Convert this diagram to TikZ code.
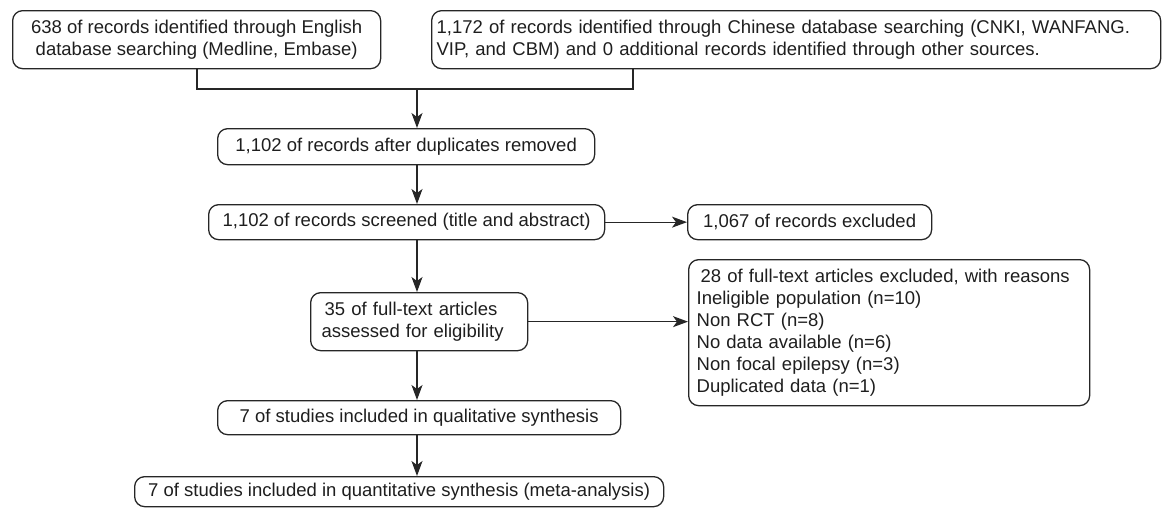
\documentclass[tikz,border=0pt]{standalone}
\usepackage{fontspec}
\setmainfont{Liberation Sans}
\usetikzlibrary{arrows.meta}
\definecolor{lc}{HTML}{262626}
\definecolor{tc}{HTML}{1E1E1E}
\begin{document}
\begin{tikzpicture}[x=1pt,y=-1pt,
  box/.style={draw=lc, line width=1.3pt, rounded corners=10pt, font=\fontsize{18.5}{22}\selectfont,
    text=tc, inner ysep=0pt, anchor=north west, align=center},
  lbox/.style={box, align=left},
  conn/.style={draw=lc, line width=1.3pt},
  arr/.style={conn, -{Stealth[length=15pt,width=11pt,inset=4pt]}}]
\useasboundingbox (0,0) rectangle (1163,507);

\node[box, minimum width=368pt, minimum height=58pt, inner xsep=0pt] (b1) at (12,10)
  {638 of records identified through English\\database searching (Medline, Embase)};
\node[lbox, minimum width=729pt, minimum height=58pt, inner xsep=5pt, text width=719pt] (b2) at (431,10)
  {1,172 of records identified through Chinese database searching (CNKI, WANFANG.\\VIP, and CBM) and 0 additional records identified through other sources.};
\node[box, minimum width=377pt, minimum height=36pt, inner xsep=0pt] (b3) at (217,128)
  {1,102 of records after duplicates removed};
\node[box, minimum width=396pt, minimum height=35pt, inner xsep=0pt] (b4) at (208,204)
  {1,102 of records screened (title and abstract)};
\node[box, minimum width=244pt, minimum height=35pt, inner xsep=0pt] (b5) at (687,204)
  {1,067 of records excluded};
\node[lbox, minimum width=217pt, minimum height=58pt, inner xsep=11pt, text width=195pt] (b6) at (310,292)
  {\hspace*{3pt}35 of full-text articles\\assessed for eligibility};
\node[lbox, minimum width=401pt, minimum height=146pt, inner xsep=8pt, text width=385pt] (b9) at (688,259)
  {\hspace*{4pt}28 of full-text articles excluded, with reasons\\Ineligible population (n=10)\\Non RCT (n=8)\\No data available (n=6)\\Non focal epilepsy (n=3)\\Duplicated data (n=1)};
\node[box, minimum width=403pt, minimum height=34pt, inner xsep=0pt] (b7) at (217,400)
  {7 of studies included in qualitative synthesis};
\node[box, minimum width=529pt, minimum height=30pt, inner xsep=0pt] (b8) at (134,476)
  {7 of studies included in quantitative synthesis (meta-analysis)};

\coordinate (s1) at (197,89);
\coordinate (s2) at (633,89);
\coordinate (j) at (417,89);
\coordinate (sp) at (417,0);

\draw[conn] (b1.south -| s1) -- (s1) -- (s2) -- (b2.south -| s2);
\draw[arr] (j) -- (b3.north -| j);
\draw[arr] (b3.south -| sp) -- (b4.north -| sp);
\draw[arr] (b4.south -| sp) -- (b6.north -| sp);
\draw[arr] (b6.south -| sp) -- (b7.north -| sp);
\draw[arr] (b7.south -| sp) -- (b8.north -| sp);
\draw[arr] (b4.east) -- (b5.west);
\draw[arr] (b6.east) -- (b6.east -| b9.west);
\end{tikzpicture}
\end{document}
